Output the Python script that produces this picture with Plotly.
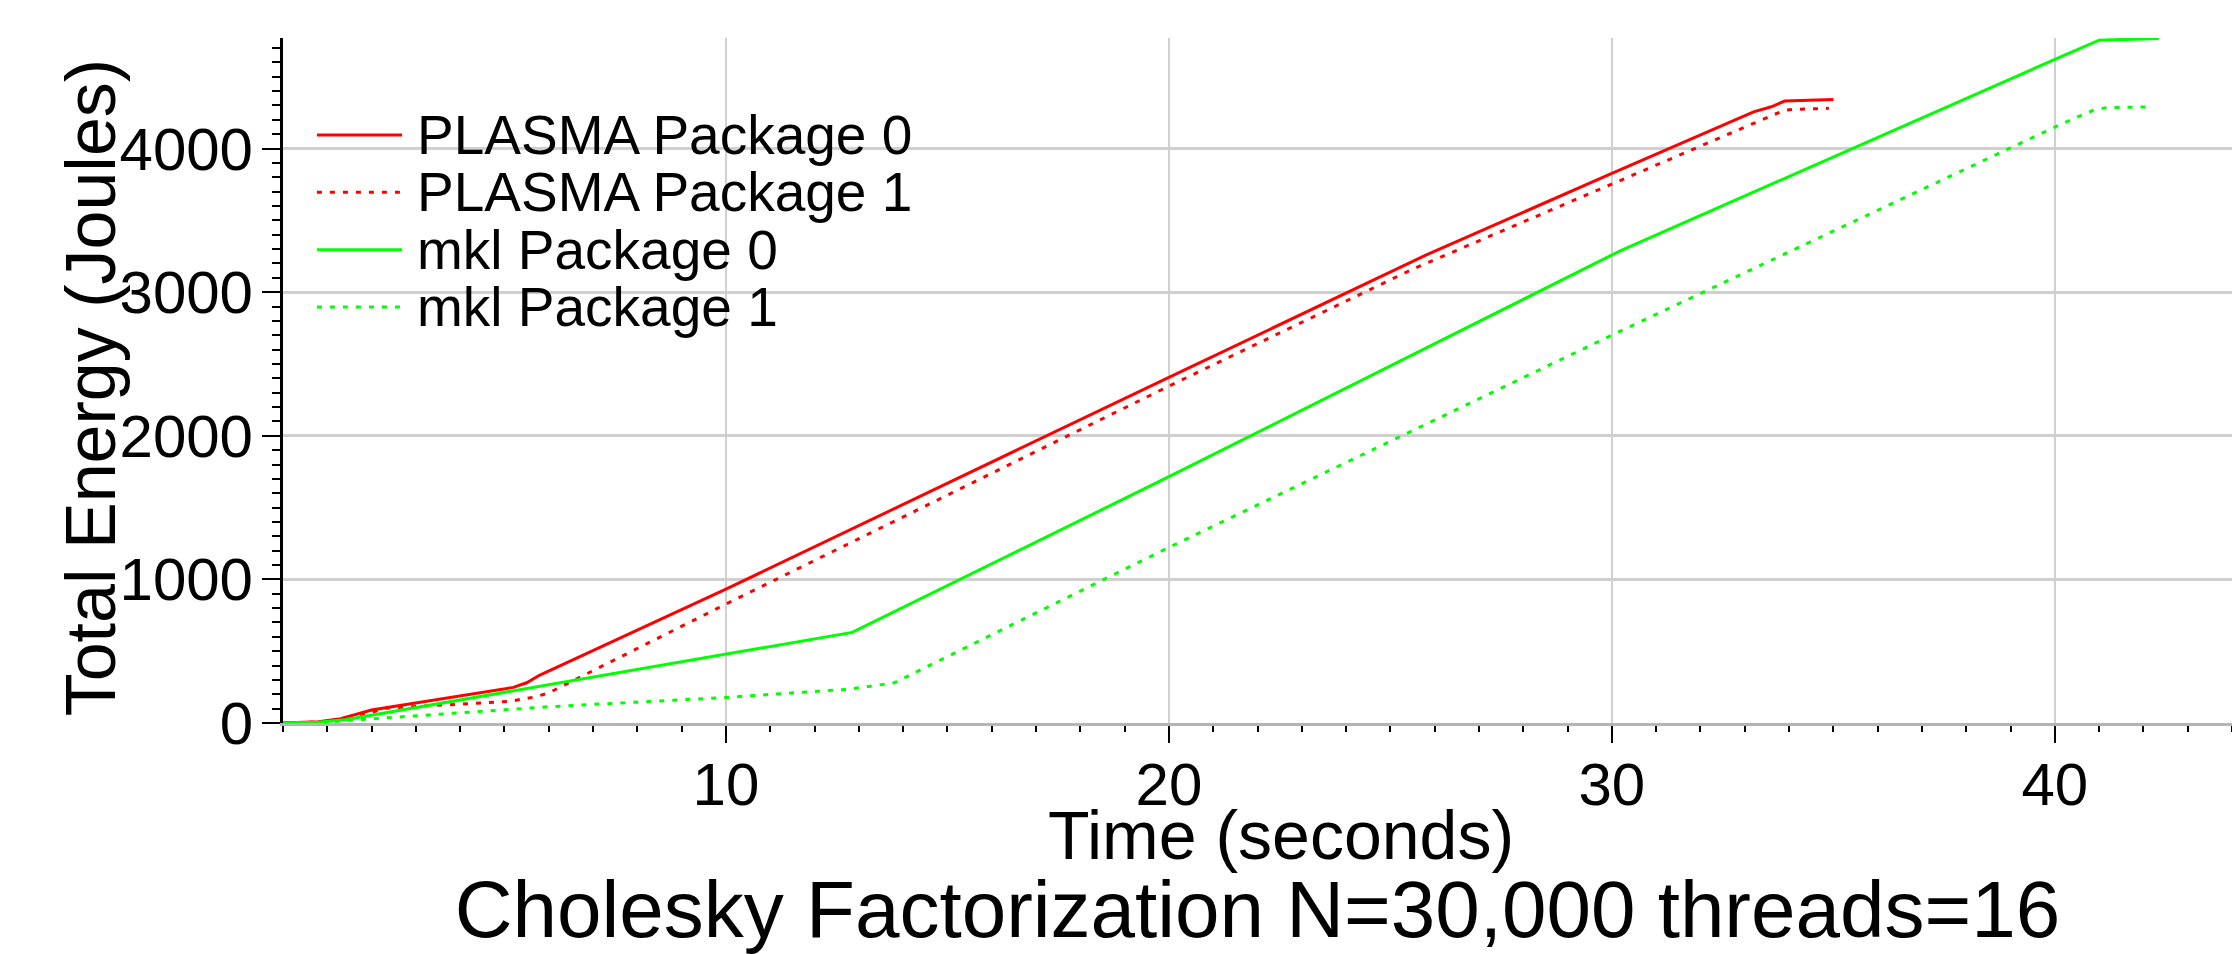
import plotly.graph_objects as go

# ---- data ----
plasma_p0_t = [0, 0.8, 1.3, 2.0, 5.2, 5.5, 5.8, 10.0, 20.0, 25.8, 30.0, 33.2, 33.6, 33.9, 35.0]
plasma_p0_e = [0, 8, 30, 90, 248, 280, 334, 932, 2407, 3258, 3827, 4256, 4291, 4331, 4342]

plasma_p1_t = [0, 1.0, 1.5, 2.3, 5.1, 5.7, 6.0, 10.0, 20.0, 25.5, 30.0, 33.3, 33.9, 34.1, 34.9]
plasma_p1_e = [0, 8, 25, 103, 150, 182, 210, 828, 2346, 3160, 3753, 4190, 4268, 4273, 4280]

mkl_p0_t = [0, 0.8, 1.4, 5.2, 10.0, 12.85, 20.0, 30.2, 40.0, 41.0, 42.35]
mkl_p0_e = [0, 5, 22, 224, 480, 631, 1715, 3290, 4621, 4755, 4767]

mkl_p1_t = [0, 0.8, 1.8, 6.0, 10.0, 11.4, 12.8, 13.8, 20.0, 30.0, 40.0, 40.85, 41.15, 42.2]
mkl_p1_e = [0, 3, 25, 113, 178, 206, 236, 280, 1223, 2701, 4150, 4265, 4284, 4291]

series_names = ["PLASMA Package 0", "PLASMA Package 1", "mkl Package 0", "mkl Package 1"]
series_colors = ["#ff0000", "#ff0000", "#00ff00", "#00ff00"]
series_dash = ["solid", "5px,8px", "solid", "5px,8px"]
series_t = [plasma_p0_t, plasma_p1_t, mkl_p0_t, mkl_p1_t]
series_e = [plasma_p0_e, plasma_p1_e, mkl_p0_e, mkl_p1_e]

x_tickvals = [10, 20, 30, 40]
y_tickvals = [0, 1000, 2000, 3000, 4000]

title_text = "Cholesky Factorization N=30,000 threads=16"
x_title = "Time (seconds)"
y_title = "Total Energy (Joules)"

FONT = "Liberation Sans, Arial, sans-serif"

fig = go.Figure()
for name, col, dash, t, e in zip(series_names, series_colors, series_dash, series_t, series_e):
    fig.add_trace(go.Scatter(x=t, y=e, name=name, mode="lines",
                             line=dict(color=col, width=3, dash=dash),
                             showlegend=False))

# custom legend (long line samples, tight row spacing as in the reference)
leg_x0, leg_x1, leg_tx = 0.0174, 0.0611, 0.0675
leg_top, leg_step = 0.8584, 0.0837
shapes = []
annotations = []
for i, (name, col, dash) in enumerate(zip(series_names, series_colors, series_dash)):
    yy = leg_top - i * leg_step
    shapes.append(dict(type="line", xref="paper", yref="paper", x0=leg_x0, x1=leg_x1,
                       y0=yy, y1=yy, line=dict(color=col, width=3, dash=dash)))
    annotations.append(dict(text=name, xref="paper", yref="paper", x=leg_tx, y=yy,
                            xanchor="left", yanchor="middle", showarrow=False,
                            font=dict(family=FONT, size=55, color="black")))

annotations.append(dict(text=x_title, xref="paper", yref="paper", x=0.512, y=-0.163,
                        xanchor="center", yanchor="middle", showarrow=False,
                        font=dict(family=FONT, size=68, color="black")))
annotations.append(dict(text=y_title, xref="paper", yref="paper", x=-0.0985, y=0.49,
                        xanchor="center", yanchor="middle", showarrow=False, textangle=-90,
                        font=dict(family=FONT, size=70, color="black")))

fig.update_layout(
    width=2232, height=954,
    margin=dict(l=283, r=0, t=38, b=231),
    paper_bgcolor="white", plot_bgcolor="white",
    font=dict(family=FONT, color="black"),
    title=dict(text=title_text, xref="paper", x=0.5, xanchor="center",
               yref="container", y=0.047, yanchor="middle",
               font=dict(family=FONT, size=80, color="black")),
    shapes=shapes, annotations=annotations,
    xaxis=dict(range=[0, 44.0], tickmode="array", tickvals=x_tickvals,
               ticks="outside", ticklen=17, tickwidth=2, tickcolor="black",
               ticklabelstandoff=-10,
               tickfont=dict(family=FONT, size=60, color="black"),
               showline=True, linecolor="#b4b4b4", linewidth=3,
               showgrid=True, gridcolor="#d0d0d0", gridwidth=2, zeroline=False,
               minor=dict(tickmode="linear", tick0=0, dtick=1, ticks="outside",
                          ticklen=6, tickwidth=2, tickcolor="black", showgrid=False)),
    yaxis=dict(range=[0, 4770], tickmode="array", tickvals=y_tickvals,
               ticks="outside", ticklen=18, tickwidth=2, tickcolor="black",
               ticklabelstandoff=-3,
               tickfont=dict(family=FONT, size=60, color="black"),
               showline=True, linecolor="black", linewidth=3,
               showgrid=True, gridcolor="#d0d0d0", gridwidth=3, zeroline=False,
               minor=dict(tickmode="linear", tick0=0, dtick=100, ticks="outside",
                          ticklen=8, tickwidth=2, tickcolor="black", showgrid=False)),
)

fig.write_html("out.html")
